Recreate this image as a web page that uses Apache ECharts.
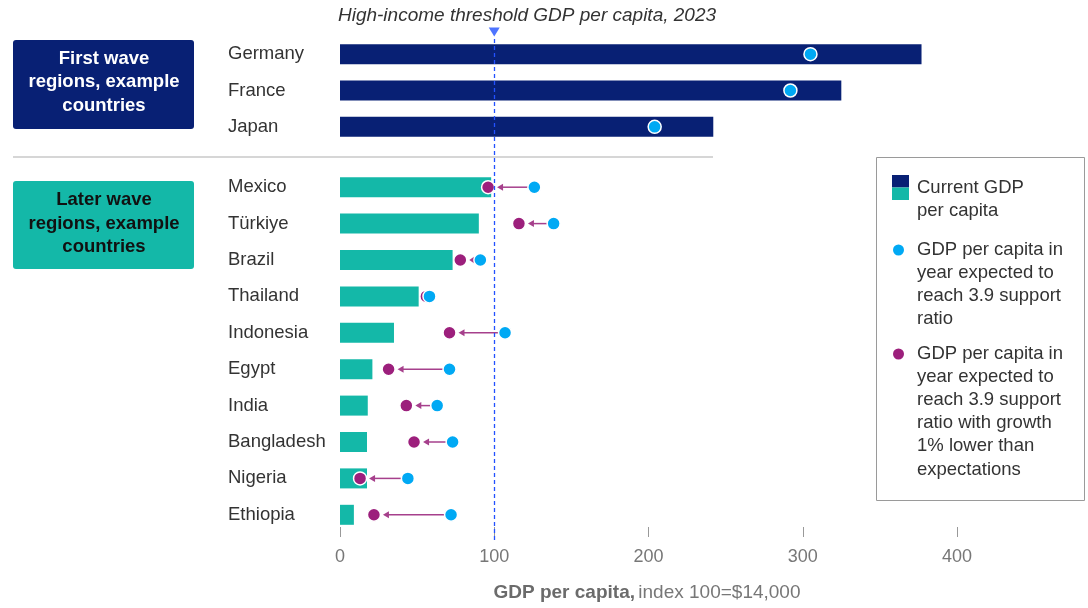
<!DOCTYPE html>
<html>
<head>
<meta charset="utf-8">
<script src="https://cdn.jsdelivr.net/npm/echarts@6/dist/echarts.min.js"></script>
<style>
html,body{margin:0;padding:0;background:#fff;}
#chart{width:1088px;height:608px;}
</style>
</head>
<body>
<div id="chart"></div>
<script>
// ---- data ----
const countriesFirst = ['Germany', 'France', 'Japan'];
const currentFirst = [377, 325, 242];
const expectedFirst = [305, 292, 204];

const countriesLater = ['Mexico', 'Türkiye', 'Brazil', 'Thailand', 'Indonesia', 'Egypt', 'India', 'Bangladesh', 'Nigeria', 'Ethiopia'];
const currentLater = [98, 90, 73, 51, 35, 21, 18, 17.5, 17.5, 9];
const expectedLater = [126, 138.5, 91, 58, 107, 71, 63, 73, 44, 72];
const lowerGrowthLater = [96, 116, 78, 56, 71, 31.5, 43, 48, 13, 22];

const xTicks = [0, 100, 200, 300, 400];
const threshold = 100;

const groupLabels = ['First wave\nregions, example\ncountries', 'Later wave\nregions, example\ncountries'];
const legendLabels = ['Current GDP\nper capita',
  'GDP per capita in\nyear expected to\nreach 3.9 support\nratio',
  'GDP per capita in\nyear expected to\nreach 3.9 support\nratio with growth\n1% lower than\nexpectations'];
const titleText = 'High-income threshold GDP per capita, 2023';

// ---- style ----
const FONT = '"Liberation Sans", Arial, sans-serif';
const NAVY = '#082074';
const TEAL = '#14B8A8';
const BLUE = '#00A9F4';
const PURPLE = '#9C1F7C';
const THRESH = '#2251FF';

const chart = echarts.init(document.getElementById('chart'));

const xBase = {
  type: 'value', min: xTicks[0], max: xTicks[xTicks.length - 1], interval: 100,
  splitLine: { show: false }
};
const yBase = {
  type: 'category', inverse: true,
  axisLine: { show: false }, axisTick: { show: false },
  axisLabel: { align: 'left', margin: 112, color: '#333', fontSize: 18.5, fontFamily: FONT }
};

const arrowData = countriesLater.map((c, i) => [expectedLater[i], lowerGrowthLater[i], i]);

const option = {
  animation: false,
  textStyle: { fontFamily: FONT },
  grid: [
    { left: 340, width: 617, top: 36, height: 109 },
    { left: 340, width: 617, top: 169, height: 364 },
    { left: 340, width: 617, top: 37, height: 503 }
  ],
  xAxis: [
    Object.assign({ gridIndex: 0, show: false }, xBase),
    Object.assign({ gridIndex: 1, position: 'bottom', offset: -6,
      axisLine: { show: false },
      axisTick: { show: true, length: 10, lineStyle: { color: '#999', width: 1 } },
      axisLabel: { margin: 21, color: '#777', fontSize: 18, fontFamily: FONT }
    }, xBase),
    Object.assign({ gridIndex: 2, show: false }, xBase)
  ],
  yAxis: [
    Object.assign({ gridIndex: 0, data: countriesFirst }, yBase),
    Object.assign({ gridIndex: 1, data: countriesLater }, yBase),
    { gridIndex: 2, type: 'value', min: 0, max: 1, show: false, splitLine: { show: false } }
  ],
  series: [
    { type: 'bar', xAxisIndex: 0, yAxisIndex: 0, data: currentFirst, barWidth: 20,
      itemStyle: { color: NAVY }, z: 2 },
    { type: 'scatter', xAxisIndex: 0, yAxisIndex: 0, symbolSize: 13,
      data: expectedFirst.map((v, i) => [v, countriesFirst[i]]),
      itemStyle: { color: BLUE, borderColor: '#fff', borderWidth: 1.5, opacity: 1 }, z: 5 },
    { type: 'bar', xAxisIndex: 1, yAxisIndex: 1, data: currentLater, barWidth: 20,
      itemStyle: { color: TEAL }, z: 2 },
    { type: 'custom', xAxisIndex: 1, yAxisIndex: 1, data: arrowData, z: 3, silent: true,
      renderItem: function (params, api) {
        const p1 = api.coord([api.value(0), api.value(2)]);
        const p2 = api.coord([api.value(1), api.value(2)]);
        const start = p1[0] - 6;
        const tip = p2[0] + 9;
        const y = p1[1];
        const avail = start - tip;
        if (avail < 3) return null;
        const headLen = Math.min(6, avail), headHalf = 3.5;
        const children = [
          { type: 'polygon', shape: { points: [[tip, y], [tip + headLen, y - headHalf], [tip + headLen, y + headHalf]] },
            style: { fill: '#A6408C' } }
        ];
        if (avail > headLen) {
          children.push({ type: 'line', shape: { x1: start, y1: y, x2: tip + headLen - 1, y2: y },
            style: { stroke: '#A6408C', lineWidth: 1.5 } });
        }
        return { type: 'group', children: children };
      }
    },
    { type: 'scatter', xAxisIndex: 1, yAxisIndex: 1, symbolSize: 13,
      data: lowerGrowthLater.map((v, i) => [v, countriesLater[i]]),
      itemStyle: { color: PURPLE, borderColor: '#fff', borderWidth: 1.5, opacity: 1 }, z: 4 },
    { type: 'scatter', xAxisIndex: 1, yAxisIndex: 1, symbolSize: 13,
      data: expectedLater.map((v, i) => [v, countriesLater[i]]),
      itemStyle: { color: BLUE, borderColor: '#fff', borderWidth: 1.5, opacity: 1 }, z: 5 },
    { type: 'scatter', xAxisIndex: 2, yAxisIndex: 2, z: 10, silent: true,
      data: [[threshold, 1]], symbol: 'triangle', symbolRotate: 180, symbolSize: [11, 9],
      symbolOffset: [0, -5], itemStyle: { color: THRESH },
      markLine: { silent: true, symbol: ['none', 'none'], label: { show: false },
        lineStyle: { color: THRESH, type: [4, 3], width: 1.3 },
        data: [[{ coord: [threshold, 0] }, { coord: [threshold, 1] }]] }
    }
  ],
  graphic: [
    { type: 'text', x: 527, y: 6, style: { text: titleText, fill: '#333', font: 'italic 19px ' + FONT, align: 'center' } },
    { type: 'line', shape: { x1: 13, y1: 157, x2: 713, y2: 157 }, style: { stroke: '#d6d6d6', lineWidth: 2 } },
    { type: 'rect', shape: { x: 13, y: 40, width: 181, height: 89, r: 3 }, style: { fill: NAVY } },
    { type: 'text', x: 104, y: 82, style: { text: groupLabels[0], fill: '#fff', font: 'bold 18.5px ' + FONT,
      align: 'center', verticalAlign: 'middle', lineHeight: 23.5 } },
    { type: 'rect', shape: { x: 13, y: 181, width: 181, height: 88, r: 3 }, style: { fill: TEAL } },
    { type: 'text', x: 104, y: 223.5, style: { text: groupLabels[1], fill: '#111', font: 'bold 18.5px ' + FONT,
      align: 'center', verticalAlign: 'middle', lineHeight: 23.5 } },
    // legend
    { type: 'rect', shape: { x: 876.5, y: 157.5, width: 208, height: 343 }, style: { fill: 'none', stroke: '#9a9a9a', lineWidth: 1 } },
    { type: 'rect', shape: { x: 892, y: 175, width: 17, height: 12.5 }, style: { fill: NAVY } },
    { type: 'rect', shape: { x: 892, y: 187.5, width: 17, height: 12.5 }, style: { fill: TEAL } },
    { type: 'text', x: 917, y: 176, style: { text: legendLabels[0], fill: '#333', font: '18.5px ' + FONT, lineHeight: 23.5 } },
    { type: 'circle', shape: { cx: 898.5, cy: 250, r: 5.5 }, style: { fill: BLUE } },
    { type: 'text', x: 917, y: 238, style: { text: legendLabels[1], fill: '#333', font: '18.5px ' + FONT, lineHeight: 23.2 } },
    { type: 'circle', shape: { cx: 898.5, cy: 354, r: 5.5 }, style: { fill: PURPLE } },
    { type: 'text', x: 917, y: 342, style: { text: legendLabels[2], fill: '#333', font: '18.5px ' + FONT, lineHeight: 23.2 } },
    // axis title
    { type: 'text', x: 647, y: 593, style: { text: '{b|GDP per capita,} {r|index 100=$14,000}', align: 'center', verticalAlign: 'middle',
      rich: { b: { fontWeight: 'bold', fill: '#6b6b6b', fontSize: 19, fontFamily: FONT },
              r: { fill: '#777', fontSize: 19, fontFamily: FONT } } } }
  ]
};
chart.setOption(option);
</script>
</body>
</html>
